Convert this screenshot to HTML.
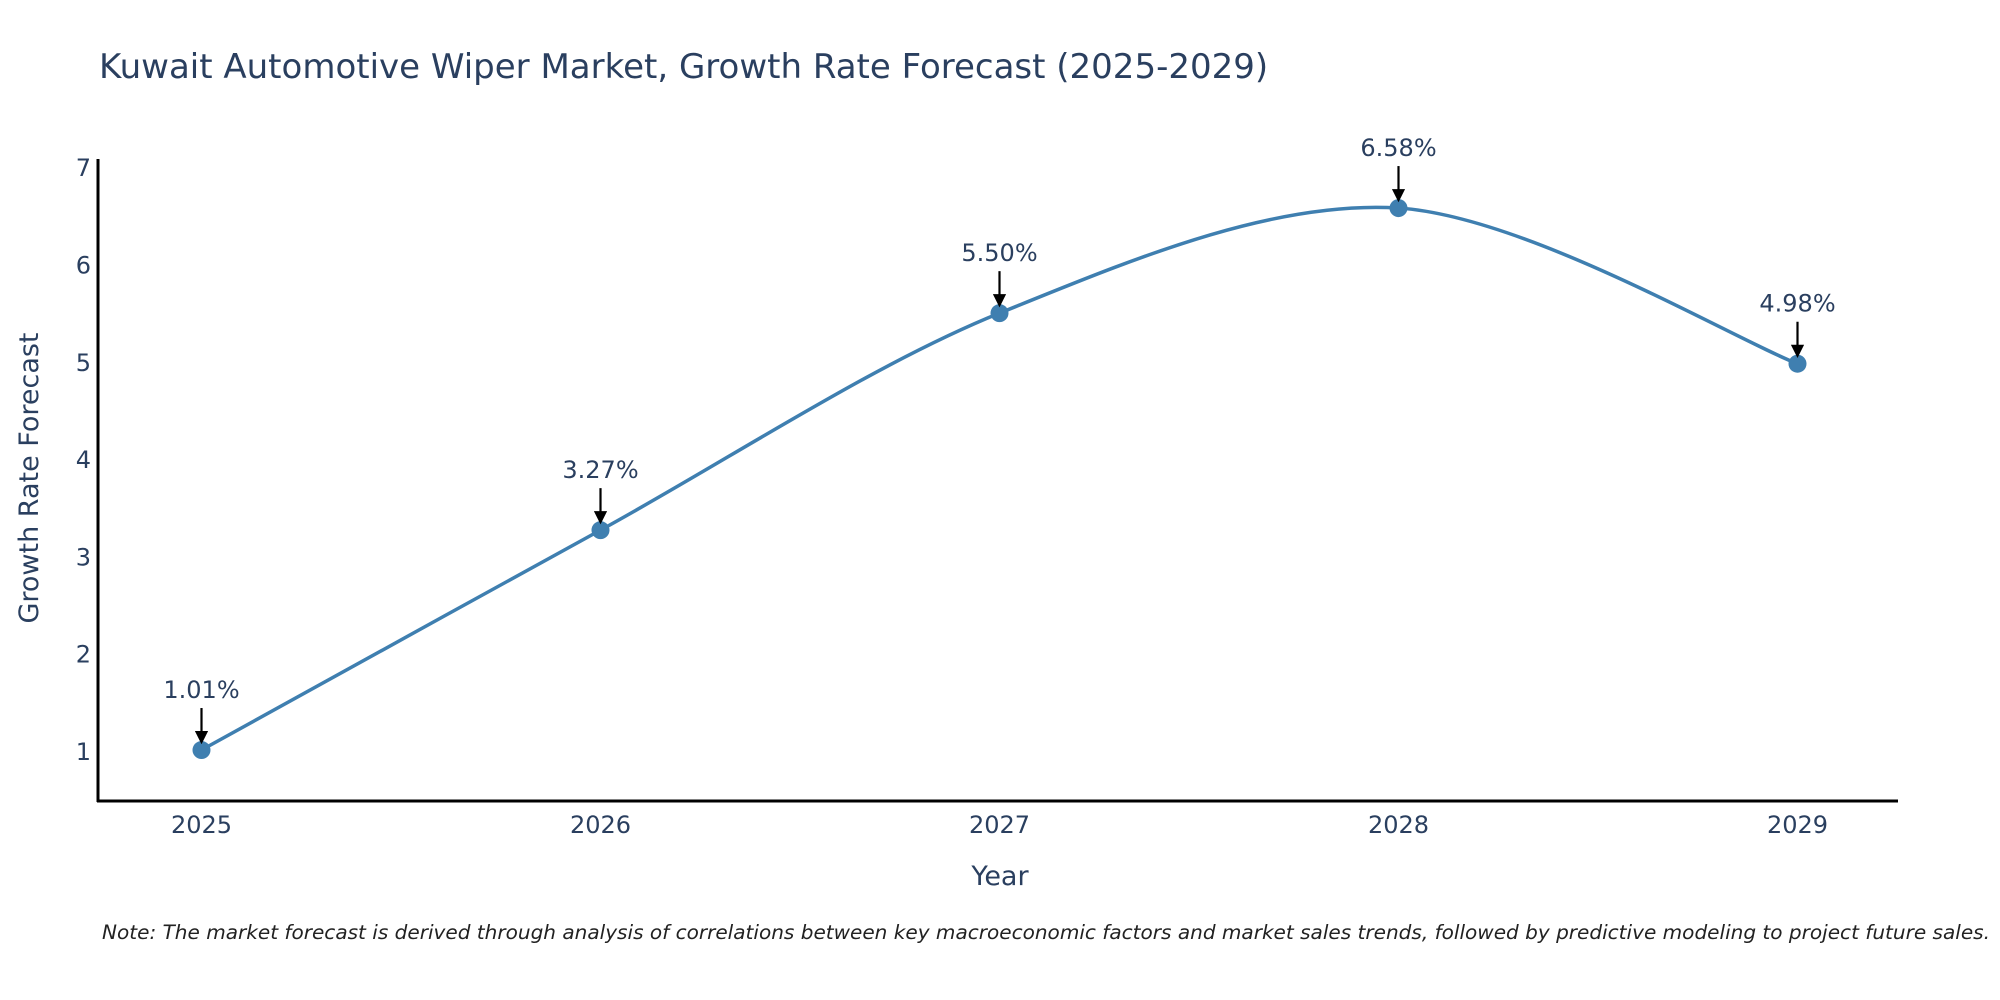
<!DOCTYPE html>
<html><head><meta charset="utf-8"><style>
body{margin:0;background:#fff;}
svg{display:block;font-family:"DejaVu Sans","Liberation Sans",sans-serif;}
</style></head><body>
<svg id="chart" width="2000" height="1000">
<text x="99" y="78" font-size="34" fill="#2a3f5f">Kuwait Automotive Wiper Market, Growth Rate Forecast (2025-2029)</text>
<g id="axes"></g>
<g id="series"></g>
<text x="1000" y="885" font-size="27" fill="#2a3f5f" text-anchor="middle">Year</text>
<text transform="translate(38,478) rotate(-90)" font-size="27" fill="#2a3f5f" text-anchor="middle">Growth Rate Forecast</text>
<text x="1990" y="939" font-size="19.5" font-style="italic" fill="#222" text-anchor="end" textLength="1888" lengthAdjust="spacingAndGlyphs">Note: The market forecast is derived through analysis of correlations between key macroeconomic factors and market sales trends, followed by predictive modeling to project future sales.</text>
</svg>
<script>
const years = [2025, 2026, 2027, 2028, 2029];
const values = [1.01, 3.27, 5.50, 6.58, 4.98];
const labels = ["1.01%", "3.27%", "5.50%", "6.58%", "4.98%"];
const yTicks = [1, 2, 3, 4, 5, 6, 7];

const NS = "http://www.w3.org/2000/svg";
const xs = v => 201.5 + (v - 2025) * 399;
const ys = v => 751 - (v - 1) * 97.3;
function mk(tag, attrs, parent){const e=document.createElementNS(NS,tag);for(const k in attrs)e.setAttribute(k,attrs[k]);parent.appendChild(e);return e;}
const axes=document.getElementById('axes'), ser=document.getElementById('series');

const yl=mk('line',{x1:98,y1:159,x2:98,y2:802,stroke:'#000','stroke-width':3},axes);


const xl=mk('line',{x1:97,y1:801,x2:1898,y2:801,stroke:'#000','stroke-width':3},axes);



yTicks.forEach(t=>{
  const tx=mk('text',{x:91,y:ys(t)+9,'font-size':24,fill:'#2a3f5f','text-anchor':'end'},axes);
  tx.textContent=t;
  
  
});
years.forEach(y=>{
  const tx=mk('text',{x:xs(y),y:833,'font-size':24,fill:'#2a3f5f','text-anchor':'middle'},axes);
  tx.textContent=y;
  
  
});

const pts=years.map((y,i)=>[xs(y),ys(values[i])]);
let d=`M${pts[0][0]},${pts[0][1]}`;
const s=0.16;
for(let i=0;i<pts.length-1;i++){
  const p0=pts[Math.max(0,i-1)],p1=pts[i],p2=pts[i+1],p3=pts[Math.min(pts.length-1,i+2)];
  const c1=[p1[0]+(p2[0]-p0[0])*s,p1[1]+(p2[1]-p0[1])*s];
  const c2=[p2[0]-(p3[0]-p1[0])*s,p2[1]-(p3[1]-p1[1])*s];
  d+=` C${c1[0]},${c1[1]} ${c2[0]},${c2[1]} ${p2[0]},${p2[1]}`;
}
const line=mk('path',{d:d,fill:'none',stroke:'#3f7fb0','stroke-width':3.5},ser);



mk('defs',{},ser).innerHTML='<marker id="ah" markerWidth="6" markerHeight="6" refX="5" refY="3" orient="auto" markerUnits="strokeWidth"><path d="M0,0 L6,3 L0,6 z" fill="#000"/></marker>';

pts.forEach((p,i)=>{
  const c=mk('circle',{cx:p[0],cy:p[1],r:9,fill:'#3f7fb0'},ser);
  
  
  const a=mk('line',{x1:p[0],y1:p[1]-42,x2:p[0],y2:p[1]-8,stroke:'#000','stroke-width':2.2,'marker-end':'url(#ah)'},ser);
  
  
  const t=mk('text',{x:p[0],y:p[1]-52,'font-size':24,fill:'#2a3f5f','text-anchor':'middle'},ser);
  t.textContent=labels[i];
  
  
});
</script>
</body></html>
